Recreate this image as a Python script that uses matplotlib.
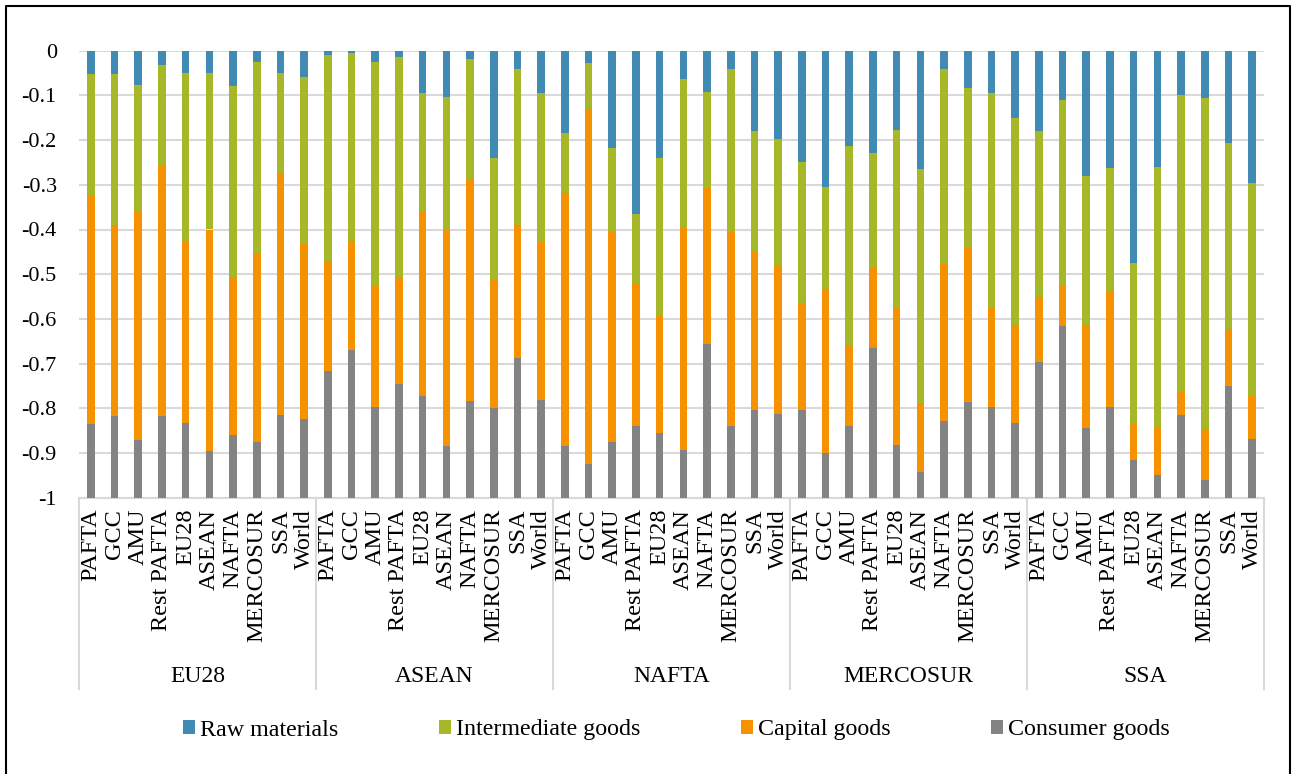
import numpy as np
import matplotlib.pyplot as plt
from matplotlib import transforms

##################################
# DATA
##################################

groups = ["EU28", "ASEAN", "NAFTA", "MERCOSUR", "SSA"]
partners = ["PAFTA", "GCC", "AMU", "Rest PAFTA", "EU28", "ASEAN", "NAFTA", "MERCOSUR", "SSA", "World"]

# shares per bar (group by group, 10 partners each)
raw_materials = [
    0.052, 0.052, 0.077, 0.032, 0.049, 0.050, 0.080, 0.025, 0.050, 0.059,
    0.010, 0.005, 0.025, 0.014, 0.095, 0.104, 0.018, 0.239, 0.042, 0.095,
    0.185, 0.028, 0.218, 0.365, 0.239, 0.064, 0.093, 0.040, 0.180, 0.198,
    0.249, 0.306, 0.213, 0.229, 0.177, 0.265, 0.042, 0.083, 0.095, 0.151,
    0.180, 0.110, 0.280, 0.262, 0.475, 0.260, 0.100, 0.106, 0.207, 0.296,
]
intermediate_goods = [
    0.272, 0.338, 0.281, 0.227, 0.379, 0.350, 0.427, 0.428, 0.224, 0.374,
    0.461, 0.424, 0.502, 0.492, 0.264, 0.298, 0.268, 0.275, 0.349, 0.332,
    0.134, 0.102, 0.188, 0.154, 0.352, 0.331, 0.214, 0.366, 0.269, 0.284,
    0.316, 0.228, 0.448, 0.258, 0.397, 0.524, 0.436, 0.357, 0.479, 0.463,
    0.370, 0.417, 0.334, 0.278, 0.358, 0.583, 0.661, 0.741, 0.416, 0.477,
]
capital_goods = [
    0.512, 0.427, 0.514, 0.558, 0.406, 0.496, 0.353, 0.423, 0.541, 0.391,
    0.246, 0.240, 0.271, 0.240, 0.413, 0.482, 0.498, 0.285, 0.296, 0.355,
    0.566, 0.794, 0.469, 0.321, 0.265, 0.499, 0.350, 0.433, 0.355, 0.330,
    0.238, 0.365, 0.179, 0.178, 0.307, 0.153, 0.350, 0.346, 0.224, 0.220,
    0.146, 0.090, 0.229, 0.257, 0.083, 0.107, 0.053, 0.113, 0.128, 0.096,
]
consumer_goods = [
    0.164, 0.183, 0.128, 0.183, 0.166, 0.104, 0.140, 0.124, 0.185, 0.176,
    0.283, 0.331, 0.202, 0.254, 0.228, 0.116, 0.216, 0.201, 0.313, 0.218,
    0.115, 0.076, 0.125, 0.160, 0.144, 0.106, 0.343, 0.161, 0.196, 0.188,
    0.197, 0.101, 0.160, 0.335, 0.119, 0.058, 0.172, 0.214, 0.202, 0.166,
    0.304, 0.383, 0.157, 0.203, 0.084, 0.050, 0.186, 0.040, 0.249, 0.131,
]

series_names = ["Raw materials", "Intermediate goods", "Capital goods", "Consumer goods"]
series_colors = ["#418AB3", "#A6B727", "#F69200", "#838383"]

##################################
# PLOTTING
##################################

plt.rcParams['font.family'] = ['Liberation Serif', 'DejaVu Serif']

fig = plt.figure(figsize=(12.92, 7.74), dpi=100)
W, H = 1292, 774
ax = fig.add_axes([79 / W, 1 - 497.7 / H, (1264 - 79) / W, (497.7 - 50.7) / H])

x = np.arange(len(groups) * len(partners))
bottom = np.zeros(len(x))
for name, vals, col in zip(series_names,
                           [raw_materials, intermediate_goods, capital_goods, consumer_goods],
                           series_colors):
    vals = np.array(vals)
    ax.bar(x, -vals, bottom=-bottom, width=0.32, color=col, label=name, zorder=3)
    bottom = bottom + vals


def fmt_tick(v, pos):
    v = round(v, 1)
    return "0" if v == 0 else "%g" % v


ax.set_ylim(-1, 0)
ax.set_xlim(-0.5, len(x) - 0.5)
ax.set_yticks(np.arange(-1, 0.01, 0.1))
ax.yaxis.set_major_formatter(plt.FuncFormatter(fmt_tick))
ax.tick_params(axis='y', length=0, labelsize=16, pad=16)
ax.grid(axis='y', color='#d9d9d9', linewidth=1.5, zorder=0)
for s in ['left', 'right', 'top']:
    ax.spines[s].set_visible(False)
ax.spines['bottom'].set_color('#d9d9d9')
ax.spines['bottom'].set_linewidth(1.5)

ax.set_xticks(x)
ax.set_xticklabels(partners * len(groups), rotation=90, fontsize=17.5)
ax.tick_params(axis='x', length=0, pad=8)

# group labels and separators under the axis
trans = transforms.blended_transform_factory(ax.transData, ax.transAxes)
sep_bottom = -(689 - 497.7) / 447
for g, name in enumerate(groups):
    ax.text(g * 10 + 4.5, -(676 - 497.7) / 447, name, transform=trans,
            ha='center', va='center', fontsize=17)
for b in range(len(groups) + 1):
    ax.plot([b * 10 - 0.5, b * 10 - 0.5], [0, sep_bottom], transform=trans,
            color='#d9d9d9', linewidth=1.5, clip_on=False)

fig.legend(loc='center', bbox_to_anchor=(676.5 / W, 1 - 730 / H), ncol=4, frameon=False,
           fontsize=17.3, handlelength=0.5, handleheight=0.5, handletextpad=0.2,
           columnspacing=4.2, borderpad=0)

# chart frame
fig.add_artist(plt.Line2D([6 / W, 6 / W, 1290 / W, 1290 / W], [0, 1 - 6 / H, 1 - 6 / H, 0],
                          transform=fig.transFigure, color='black', linewidth=1.5))

plt.savefig("out.png", dpi=100)
